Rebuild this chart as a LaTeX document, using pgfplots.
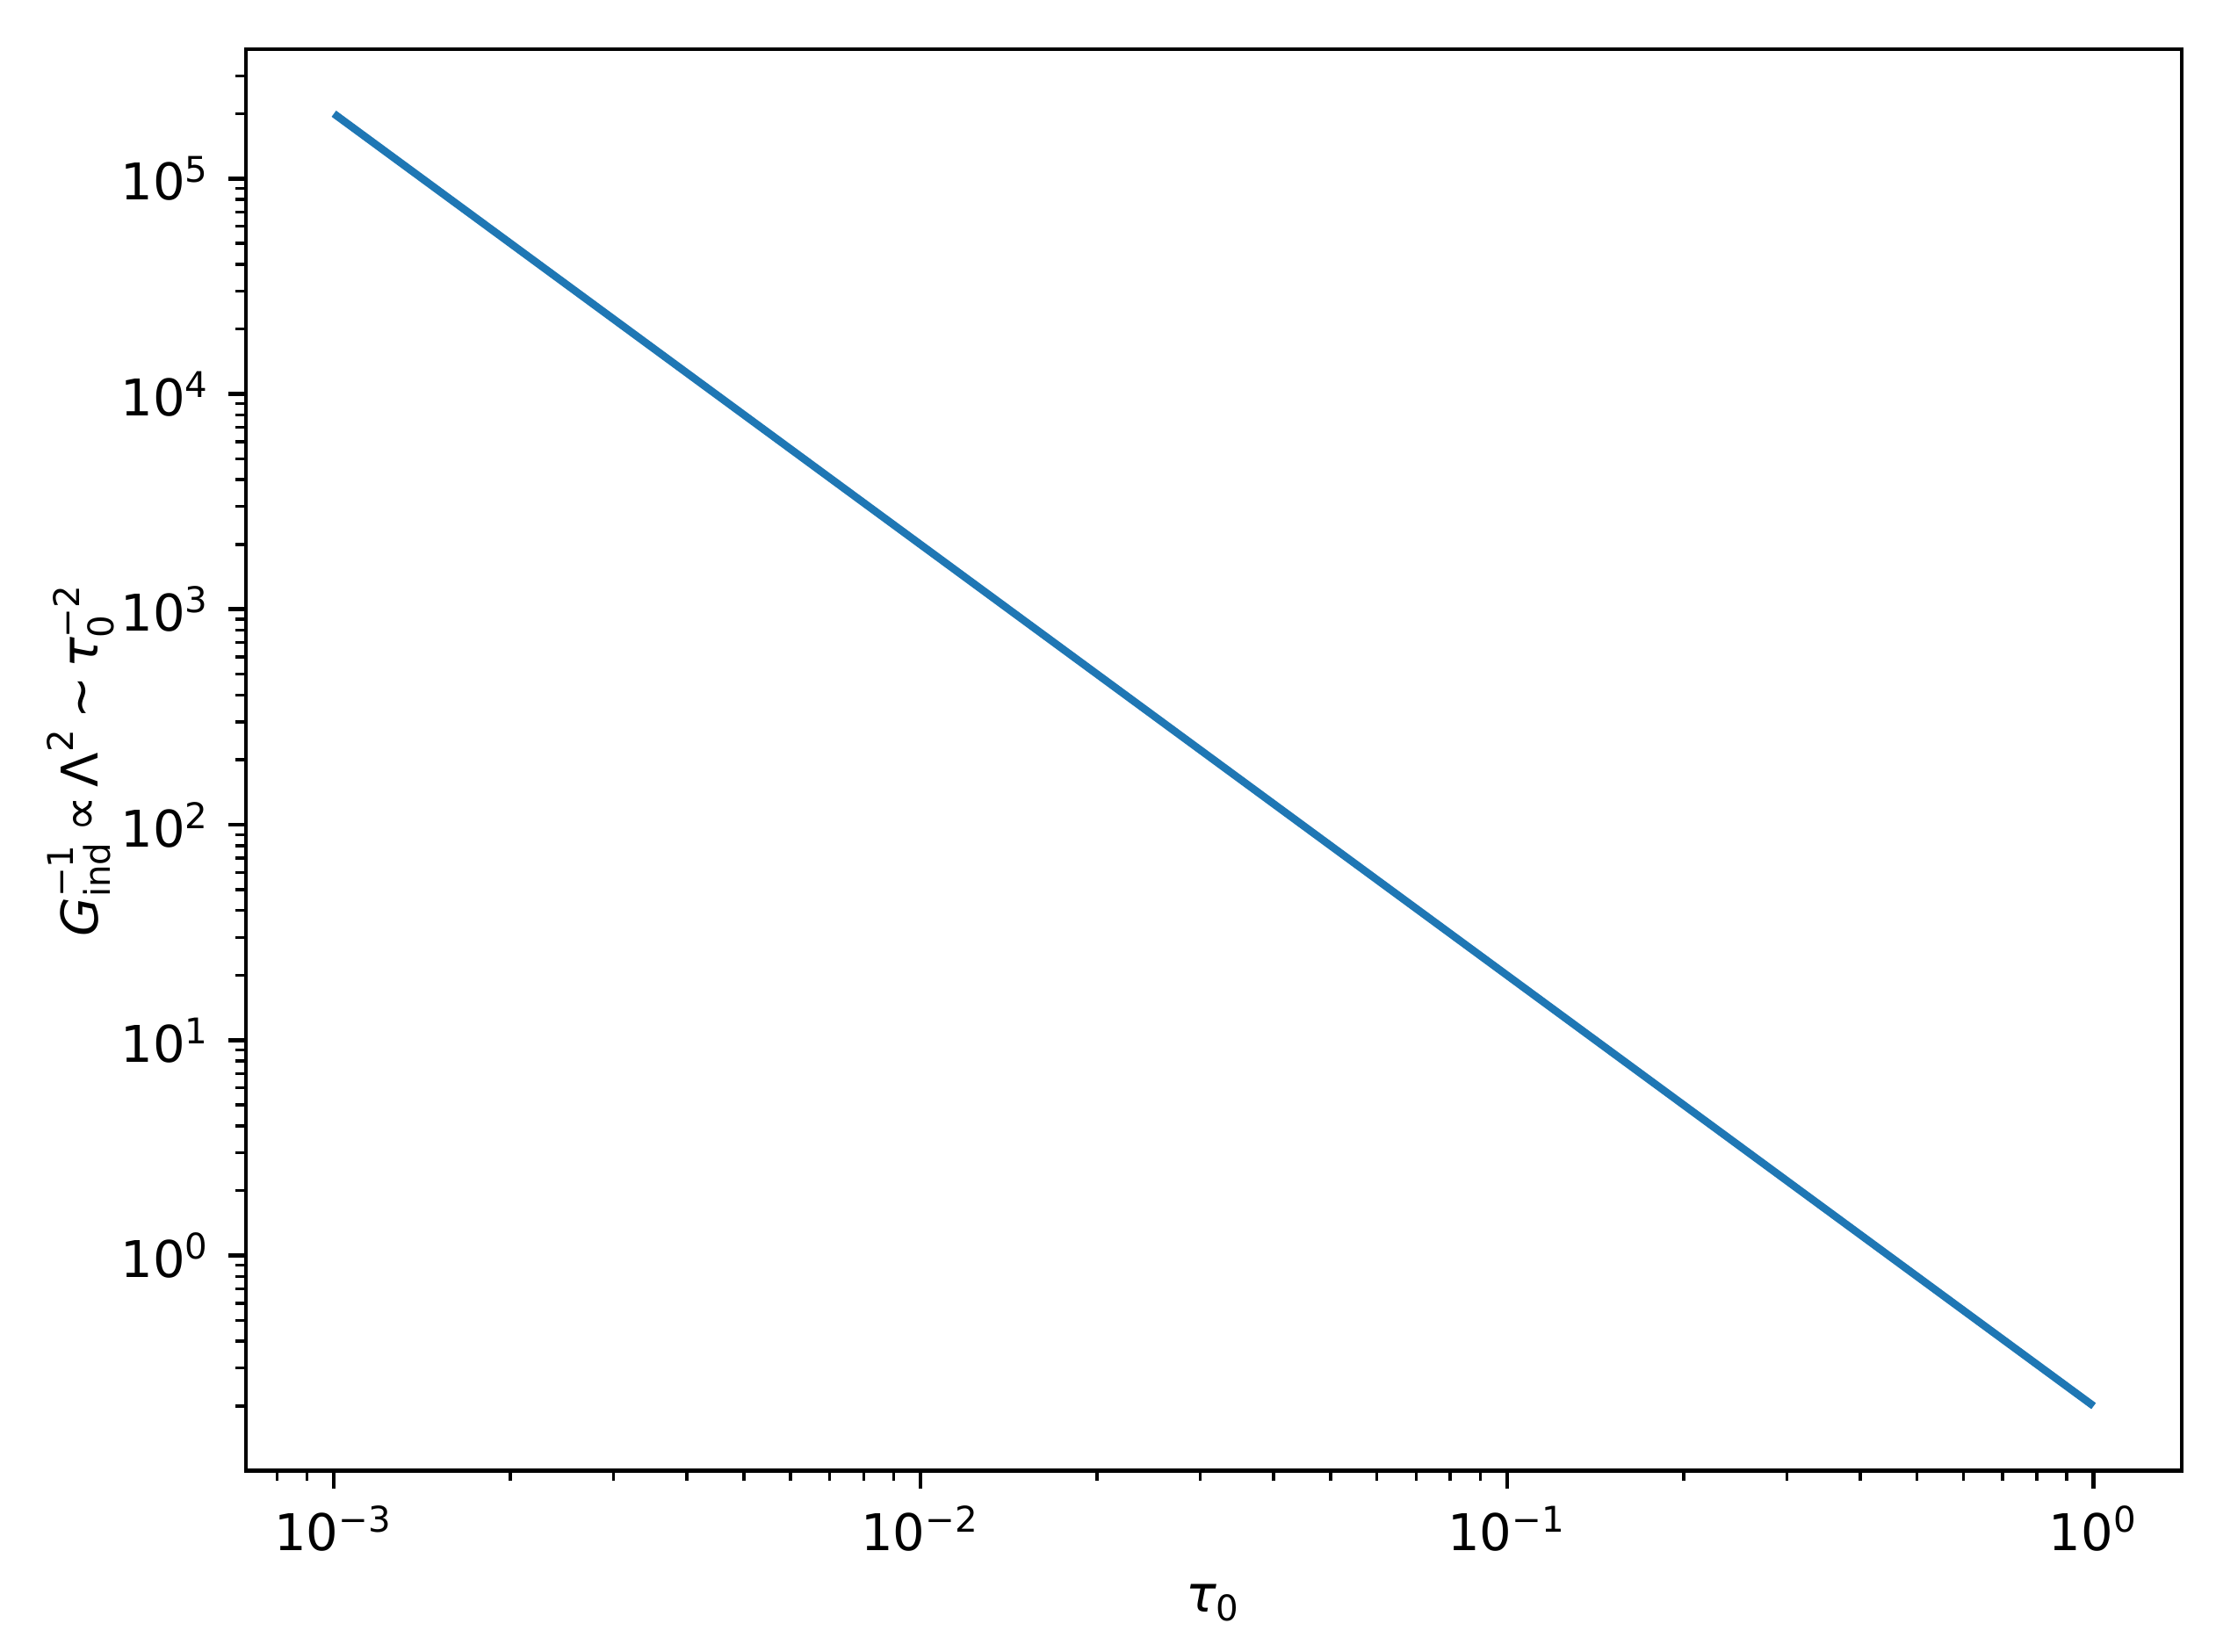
\documentclass[border=0pt]{standalone}
\usepackage{amsmath}
\usepackage{pgfplots}
\pgfplotsset{compat=1.18}
\usepackage{fontspec}
\setmainfont{DejaVu Sans}
\definecolor{mplblue}{HTML}{1F77B4}

\begin{document}
\begin{tikzpicture}
\begin{axis}[
  xmode=log, ymode=log,
  scale only axis,
  width=382.6pt, height=281pt,
  xmin=7.0795e-4, xmax=1.41254,
  ymin=0.10024, ymax=399052,
  axis line style={line width=0.8pt},
  tick align=outside,
  tick pos=left,
  major tick length=3.5pt,
  minor tick length=2pt,
  every tick/.style={black, line width=0.8pt},
  every minor tick/.style={black, line width=0.6pt},
  xtick={1e-3,1e-2,1e-1,1},
  xticklabels={10\textsuperscript{−3},10\textsuperscript{−2},10\textsuperscript{−1},10\textsuperscript{0}},
  ytick={1,10,100,1000,10000,100000},
  yticklabels={10\textsuperscript{0},10\textsuperscript{1},10\textsuperscript{2},10\textsuperscript{3},10\textsuperscript{4},10\textsuperscript{5}},
  minor xtick={8e-4,9e-4,
    2e-3,3e-3,4e-3,5e-3,6e-3,7e-3,8e-3,9e-3,
    2e-2,3e-2,4e-2,5e-2,6e-2,7e-2,8e-2,9e-2,
    2e-1,3e-1,4e-1,5e-1,6e-1,7e-1,8e-1,9e-1},
  minor ytick={0.2,0.3,0.4,0.5,0.6,0.7,0.8,0.9,
    2,3,4,5,6,7,8,9,
    20,30,40,50,60,70,80,90,
    200,300,400,500,600,700,800,900,
    2000,3000,4000,5000,6000,7000,8000,9000,
    20000,30000,40000,50000,60000,70000,80000,90000,
    200000,300000},
  xlabel={$\textit{τ}_{\text{0}}$},
  ylabel={$\textit{G}^{\text{−1}}_{\text{ind}}\,\text{∝}\,\text{Λ}^{\text{2}}\,\text{∼}\,\textit{τ}^{\text{−2}}_{\text{0}}$},
  xlabel style={at={(axis description cs:0.5,-0.0932)}, anchor=center},
  ylabel style={at={(axis description cs:-0.0852,0.5)}, anchor=center},
]
\addplot[mplblue, line width=1.5pt] coordinates {
  (0.001, 200000)
  (0.01, 2000)
  (0.1, 20)
  (1, 0.2)
};
\end{axis}
\pgfresetboundingbox
\useasboundingbox ([xshift=-48.6pt,yshift=-35.8pt]current axis.south west)
  rectangle ([xshift=6.8pt,yshift=9.7pt]current axis.north east);
\end{tikzpicture}
\end{document}
